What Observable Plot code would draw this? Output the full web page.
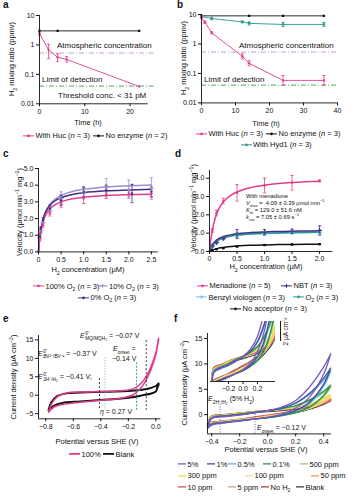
<!DOCTYPE html>
<html><head><meta charset="utf-8">
<script src="https://cdn.jsdelivr.net/npm/d3@7"></script>
<script src="https://cdn.jsdelivr.net/npm/@observablehq/plot@0.6"></script>
<style>
html,body{margin:0;padding:0;background:#fff;}
#root{position:relative;width:356px;height:500px;overflow:hidden;font-family:"Liberation Sans",Arial,Helvetica,sans-serif;color:#111;}
.t{position:absolute;white-space:nowrap;line-height:1;}
.ss{display:inline-flex;flex-direction:column;vertical-align:middle;font-size:68%;line-height:1.05;margin-left:0.5px;}
sub,sup{font-size:70%;line-height:0;}
</style></head><body><div id="root"></div>
<script>
// ---------------- DATA ----------------
// Panel a
const timeA = [0, 2, 4, 6, 22];
const hucA = [2.45, 0.68, 0.38, 0.32, 0.039];
const hucA_lo = [2.15, 0.34, 0.27, 0.26, 0.039];
const hucA_hi = [2.8, 1.05, 0.5, 0.4, 0.039];
const timeA_none = [0, 4, 22];
const noneA = [3.0, 3.0, 3.0];
const atmH2 = 0.53;
const lodH2 = 0.04;
// Panel b
const timeB_huc = [0, 1, 3, 12, 14, 24, 36];
const hucB = [8, 5.5, 2.4, 0.38, 0.22, 0.058, 0.058];
const hucB_lo = [7.2, 5.0, 2.2, 0.31, 0.18, 0.04, 0.04];
const hucB_hi = [8.8, 6.0, 2.6, 0.46, 0.27, 0.085, 0.085];
const timeB_none = [0, 14, 24, 36];
const noneB = [9, 9, 9, 9];
const timeB_hyd = [0, 3, 12, 14, 24, 36];
const hydB = [8.5, 7.3, 5.6, 5.0, 4.6, 4.6];
const hydB_lo = [8.0, 6.6, 5.2, 4.4, 3.9, 3.9];
const hydB_hi = [9.2, 8.0, 6.0, 5.6, 5.4, 5.4];
// Panel c
const concC = [0.025, 0.05, 0.1, 0.25, 0.5, 1.0, 1.5, 2.0, 2.5];
const velC100 = [0.8, 1.2, 1.6, 2.3, 2.85, 3.2, 3.4, 3.5, 3.5];
const errC100 = [0.1, 0.1, 0.12, 0.15, 0.2, 0.3, 0.2, 0.2, 0.2];
const velC10 = [0.85, 1.3, 1.75, 2.5, 3.2, 3.55, 3.85, 3.75, 3.8];
const errC10 = [0.1, 0.1, 0.15, 0.2, 0.4, 0.3, 0.55, 0.55, 0.65];
const concC0 = [0.025, 0.05, 0.1, 0.25, 0.5, 1.0, 1.5, 2.07, 2.5];
const velC0 = [0.9, 1.4, 1.9, 2.6, 3.1, 3.6, 3.7, 3.5, 3.6];
const errC0 = [0.1, 0.1, 0.15, 0.2, 0.3, 0.3, 0.3, 0.55, 0.3];
const fitConcC = [0, 0.02, 0.05, 0.1, 0.15, 0.2, 0.3, 0.4, 0.5, 0.75, 1, 1.5, 2, 2.5];
const fitC100 = [0, 0.6, 1.2, 1.8, 2.16, 2.4, 2.7, 2.88, 3.0, 3.18, 3.27, 3.38, 3.43, 3.46];
const fitC10 = [0, 0.66, 1.24, 1.91, 2.33, 2.63, 3.0, 3.23, 3.39, 3.62, 3.75, 3.89, 3.96, 4.01];
const fitC0 = [0, 0.65, 1.3, 1.95, 2.34, 2.6, 2.93, 3.12, 3.25, 3.44, 3.55, 3.66, 3.71, 3.75];
// Panel d
const concD = [0.05, 0.125, 0.25, 0.5, 1.0, 1.5, 2.0];
const velMen = [1.15, 2.1, 2.75, 3.2, 3.6, 3.75, 3.85];
const errMen = [0.1, 0.15, 0.15, 0.45, 0.4, 0.4, 0.05];
const velNBT = [0.3, 0.5, 0.72, 0.95, 1.05, 1.1, 1.15];
const errNBT = [0.05, 0.05, 0.05, 0.25, 0.15, 0.12, 0.25];
const velBV = [0.28, 0.48, 0.7, 0.9, 1.0, 1.05, 1.05];
const errBV = [0.05, 0.05, 0.05, 0.12, 0.1, 0.06, 0.15];
const velO2 = [0.3, 0.47, 0.7, 0.88, 1.0, 1.03, 1.05];
const errO2 = [0.05, 0.05, 0.05, 0.1, 0.08, 0.06, 0.1];
const velNo = [0.08, 0.12, 0.18, 0.27, 0.35, 0.38, 0.4];
const errNo = [0.02, 0.02, 0.02, 0.03, 0.03, 0.03, 0.03];
const fitConcD = [0, 0.025, 0.05, 0.1, 0.15, 0.2, 0.3, 0.4, 0.5, 0.75, 1, 1.25, 1.5, 1.75, 2];
const fitMen = [0, 0.66, 1.14, 1.79, 2.2, 2.49, 2.86, 3.09, 3.25, 3.49, 3.62, 3.71, 3.77, 3.81, 3.84];
const fitNBT = [0, 0.21, 0.35, 0.55, 0.67, 0.75, 0.86, 0.92, 0.97, 1.03, 1.07, 1.09, 1.11, 1.12, 1.13];
const fitBV = [0, 0.19, 0.32, 0.5, 0.61, 0.69, 0.79, 0.85, 0.89, 0.95, 0.98, 1.0, 1.02, 1.03, 1.04];
const fitO2 = [0, 0.18, 0.31, 0.49, 0.6, 0.68, 0.78, 0.85, 0.89, 0.96, 0.99, 1.01, 1.03, 1.04, 1.05];
const fitNo = [0, 0.04, 0.075, 0.13, 0.17, 0.2, 0.245, 0.277, 0.3, 0.338, 0.36, 0.375, 0.386, 0.394, 0.4];
// Panel e
const eUpX = [-0.78, -0.76, -0.72, -0.65, -0.5, -0.3, -0.2, -0.15, -0.1, -0.05, 0, 0.02];
const eLoX = [0.02, 0.01, 0, -0.04, -0.08, -0.12, -0.16, -0.25, -0.4, -0.55, -0.68, -0.74, -0.78];
const ePinkUp = [-4.6, -2.5, -0.5, 0.6, 0.9, 1.1, 1.4, 2.0, 3.5, 6.5, 11.5, 15.5];
const ePinkLo = [15, 13, 11, 6.5, 3.5, 1.5, 0.2, -0.8, -1.4, -1.9, -2.5, -3.2, -4.6];
const eBlankUp = [-4.0, -2.0, -0.3, 0.5, 0.8, 1.0, 1.15, 1.3, 1.5, 1.8, 2.5, 3.2];
const eBlankLo = [2.8, 2.0, 1.0, 0.4, 0.1, -0.2, -0.5, -0.9, -1.3, -1.7, -2.1, -2.8, -4.0];
const ePotentials = [-0.07, -0.37, -0.14, -0.41];
// Panel f
const fSeries = ["5%", "1%", "0.5%", "0.1%", "500 ppm", "300 ppm", "100 ppm", "50 ppm", "10 ppm", "5 ppm", "No H₂", "Blank"];
const fUpX = [-0.43, -0.4, -0.3, -0.2, -0.1, 0, 0.1, 0.2, 0.3, 0.4, 0.45];
const fLoX = [0.45, 0.4, 0.3, 0.2, 0.1, 0, -0.1, -0.2, -0.3, -0.4, -0.43];
const fUp = [
  [-2.8, -0.8, -0.4, -0.1, 0.3, 0.8, 1.5, 2.8, 5.5, 9.4, 12],
  [-2.5, -0.7, -0.3, 0, 0.4, 0.8, 1.3, 2.3, 4.2, 7.2, 9.2],
  [-2.4, -0.6, -0.3, 0, 0.4, 0.8, 1.3, 2.2, 4.0, 6.8, 8.6],
  [-2.2, -0.6, -0.2, 0.1, 0.5, 0.8, 1.2, 1.8, 2.9, 4.6, 5.8],
  [-2.2, -0.6, -0.2, 0.1, 0.5, 0.8, 1.2, 1.7, 2.7, 4.3, 5.4],
  [-2.0, -0.5, -0.2, 0.2, 0.5, 0.8, 1.1, 1.5, 2.1, 3.2, 4.0],
  [-2.0, -0.5, -0.1, 0.2, 0.5, 0.8, 1.1, 1.4, 1.9, 2.8, 3.5],
  [-1.9, -0.4, -0.1, 0.3, 0.6, 0.8, 1.1, 1.4, 1.8, 2.6, 3.2],
  [-1.8, -0.3, 0, 0.3, 0.6, 0.8, 1.0, 1.3, 1.7, 2.4, 3.0],
  [-1.8, -0.3, 0, 0.3, 0.6, 0.8, 1.0, 1.3, 1.7, 2.3, 2.9],
  [-1.7, -0.3, 0, 0.3, 0.6, 0.8, 1.0, 1.3, 1.6, 2.2, 2.7],
  [-1.9, -0.4, -0.1, 0.2, 0.4, 0.6, 0.8, 1.1, 1.5, 2.2, 2.8]
];
const fLo = [
  [12, 8, 3.5, 1.3, 0.1, -0.5, -0.9, -1.3, -1.6, -2.1, -2.8],
  [9.2, 6, 2.5, 0.8, -0.1, -0.6, -0.9, -1.2, -1.5, -1.9, -2.5],
  [8.6, 5.6, 2.2, 0.7, -0.1, -0.6, -0.9, -1.2, -1.5, -1.9, -2.4],
  [5.8, 3.8, 1.5, 0.4, -0.2, -0.6, -0.9, -1.2, -1.5, -1.8, -2.2],
  [5.4, 3.5, 1.4, 0.4, -0.2, -0.6, -0.9, -1.2, -1.5, -1.8, -2.2],
  [4.0, 2.8, 1.3, 0.5, 0, -0.4, -0.8, -1.1, -1.4, -1.7, -2.0],
  [3.5, 2.5, 1.3, 0.6, 0.1, -0.3, -0.7, -1.0, -1.3, -1.7, -2.0],
  [3.2, 2.4, 1.3, 0.6, 0.1, -0.3, -0.7, -1.0, -1.3, -1.6, -1.9],
  [3.0, 2.3, 1.3, 0.7, 0.2, -0.2, -0.6, -1.0, -1.3, -1.6, -1.8],
  [2.9, 2.2, 1.3, 0.7, 0.2, -0.2, -0.6, -1.0, -1.3, -1.6, -1.8],
  [2.7, 2.2, 1.4, 0.8, 0.3, -0.1, -0.5, -0.9, -1.2, -1.5, -1.7],
  [2.8, 2.0, 1.1, 0.4, -0.1, -0.5, -0.8, -1.1, -1.4, -1.7, -1.9]
];
const fMarkers = [-0.34, -0.09];

// ---------------- STYLE ----------------
const PINK = "#e23d8d", TEAL = "#27998f", DPURP = "#3f2f85", LPURP = "#9c8fd0", LBLUE = "#7cc0e8";
const ATM = "#c6a0d8", LOD = "#4ea65c", BLK = "#111";
const fColors = ["#7a5cb8", "#3b4ea0", "#5fb0e0", "#2e8a46", "#8dcf7f", "#ece040", "#f3d6a0", "#f39a5a", "#e05050", "#c9a08a", "#a04848", "#444444"];
const FONT = '"Liberation Sans", Arial, Helvetica, sans-serif';
const STYLE = `background:transparent;overflow:visible;font-family:${FONT};font-size:7px;color:#111;max-width:none;`;
const root = document.getElementById("root");
function put(el, left, top) { el.style.position = "absolute"; el.style.left = left + "px"; el.style.top = top + "px"; root.appendChild(el); return el; }
function P([x0, x1, y0, y1], opts) {
  const L = x0 - 30, T = y0 - 10, W = (x1 + 12) - L, H = (y1 + 20) - T;
  const svg = Plot.plot({width: W, height: H, marginLeft: 30, marginRight: 12, marginTop: 10, marginBottom: 20, style: STYLE, ...opts});
  return put(svg, L, T);
}
function T(html, x, y, o = {}) {
  const d = document.createElement("div"); d.className = "t"; d.innerHTML = html;
  d.style.left = x + "px"; d.style.top = y + "px"; d.style.fontSize = (o.size || 7.5) + "px";
  if (o.weight) d.style.fontWeight = o.weight;
  const tx = o.anchor === "middle" ? "-50%" : o.anchor === "end" ? "-100%" : "0";
  d.style.transform = `translate(${tx},-50%)` + (o.rotate ? ` rotate(${o.rotate}deg)` : "");
  root.appendChild(d); return d;
}
function legend(x, y, color, sym, html, o = {}) {
  const w = o.w || 11;
  const mk = sym === "dot" ? `<circle cx="${w/2}" cy="3" r="1.3" fill="${color}"/>` : sym === "plus" ? `<path d="M${w/2-2} 3h4M${w/2} 1v4" stroke="${color}" stroke-width="0.9"/>` : "";
  T(`<span style="display:inline-flex;align-items:center"><svg width="${w}" height="6" style="margin-right:1.5px"><line x1="0" y1="3" x2="${w}" y2="3" stroke="${color}" stroke-width="${o.sw || 1}"/>${mk}</svg><span>${html}</span></span>`, x, y, {size: o.size || 7.5});
}
const cap = {draw(ctx, size) { const w = Math.sqrt(size / Math.PI); ctx.moveTo(-w, 0); ctx.lineTo(w, 0); }};
const rows = (xs, ys, lo, hi) => xs.map((x, i) => ({x, y: ys[i], lo: lo ? lo[i] : ys[i], hi: hi ? hi[i] : ys[i]}));
const symRows = (xs, ys, es) => xs.map((x, i) => ({x, y: ys[i], lo: ys[i] - es[i], hi: ys[i] + es[i]}));
function err(data, color, r = 1.6) {
  const d = data.filter(v => v.hi > v.lo);
  return [
    Plot.ruleX(d, {x: "x", y1: "lo", y2: "hi", stroke: color, strokeWidth: 0.8}),
    Plot.dot(d, {x: "x", y: "lo", symbol: cap, r, stroke: color, fill: "none", strokeWidth: 0.8}),
    Plot.dot(d, {x: "x", y: "hi", symbol: cap, r, stroke: color, fill: "none", strokeWidth: 0.8})
  ];
}
function axes(xMin, yMin, xTicks, yTicks, xFmt, yFmt) {
  return [
    Plot.ruleX([xMin], {stroke: BLK, strokeWidth: 0.9}),
    Plot.ruleY([yMin], {stroke: BLK, strokeWidth: 0.9}),
    Plot.axisX({ticks: xTicks, tickFormat: xFmt, tickSize: 3, tickPadding: 2, label: null}),
    Plot.axisY({ticks: yTicks, tickFormat: yFmt, tickSize: 3, tickPadding: 2, label: null})
  ];
}
const logFmt = d3.format("~g");
const halfFmt = d => d === 0 ? "0" : d.toFixed(1);

// ---------------- PANEL a ----------------
{
  const huc = rows(timeA, hucA, hucA_lo, hucA_hi), none = rows(timeA_none, noneA);
  P([39.3, 148, 15, 103.3], {
    x: {domain: [0, 24]}, y: {type: "log", domain: [0.01, 10]},
    marks: [
      Plot.ruleY([atmH2], {x1: 0, x2: 25.3, stroke: ATM, strokeDasharray: "5,2,1,2"}),
      Plot.ruleY([lodH2], {x1: 0, x2: 25.3, stroke: LOD, strokeDasharray: "5,2,1,2"}),
      Plot.line(none, {x: "x", y: "y", stroke: BLK, strokeWidth: 0.9}),
      Plot.dot(none, {x: "x", y: "y", r: 1.3, fill: BLK, symbol: "square"}),
      Plot.line(huc, {x: "x", y: "y", stroke: PINK, strokeWidth: 0.9}),
      ...err(huc, PINK),
      Plot.dot(huc, {x: "x", y: "y", r: 1.2, fill: PINK}),
      ...axes(0, 0.01, [0, 10, 20], [0.01, 0.1, 1, 10], undefined, logFmt)
    ]
  });
  T("a", 3, 5, {size: 10, weight: "bold"});
  T("H<sub>2</sub> mixing ratio (ppmv)", 12, 59, {anchor: "middle", rotate: -90});
  T("Time (h)", 88, 123, {anchor: "middle"});
  T("Atmospheric concentration", 57, 46, {size: 8});
  T("Limit of detection", 42, 80, {size: 8});
  T("Threshold conc. &lt; 31 pM", 58, 96, {size: 8});
  legend(23, 136, PINK, "dot", "With Huc (<i>n</i> = 3)");
  legend(93, 136, BLK, "dot", "No enzyme (<i>n</i> = 2)");
}
// ---------------- PANEL b ----------------
{
  const huc = rows(timeB_huc, hucB, hucB_lo, hucB_hi), none = rows(timeB_none, noneB), hyd = rows(timeB_hyd, hydB, hydB_lo, hydB_hi);
  P([200.7, 336.7, 14.3, 102.7], {
    x: {domain: [0, 40]}, y: {type: "log", domain: [0.01, 10]},
    marks: [
      Plot.ruleY([atmH2], {x1: 0, x2: 40, stroke: ATM, strokeDasharray: "5,2,1,2"}),
      Plot.ruleY([lodH2], {x1: 0, x2: 40, stroke: LOD, strokeDasharray: "5,2,1,2"}),
      Plot.line(none, {x: "x", y: "y", stroke: BLK, strokeWidth: 0.9}),
      Plot.dot(none, {x: "x", y: "y", r: 1.3, fill: BLK, symbol: "square"}),
      Plot.line(hyd, {x: "x", y: "y", stroke: TEAL, strokeWidth: 0.9}),
      ...err(hyd, TEAL),
      Plot.dot(hyd, {x: "x", y: "y", r: 1.3, fill: TEAL, symbol: "square"}),
      Plot.line(huc, {x: "x", y: "y", stroke: PINK, strokeWidth: 0.9}),
      ...err(huc, PINK),
      Plot.dot(huc, {x: "x", y: "y", r: 1.2, fill: PINK}),
      ...axes(0, 0.01, [0, 10, 20, 30, 40], [0.01, 0.1, 1, 10], undefined, logFmt)
    ]
  });
  T("b", 177, 5, {size: 10, weight: "bold"});
  T("H<sub>2</sub> mixing ratio (ppmv)", 184, 58, {anchor: "middle", rotate: -90});
  T("Time (h)", 266, 123.5, {anchor: "middle"});
  T("Atmospheric concentration", 239, 46, {size: 8});
  T("Limit of detection", 204, 80, {size: 8});
  legend(196, 134, PINK, "dot", "With Huc (<i>n</i> = 3)");
  legend(266, 134, BLK, "dot", "No enzyme (<i>n</i> = 3)");
  legend(240.5, 145, TEAL, "dot", "With Hyd1 (<i>n</i> = 3)");
}
// ---------------- PANEL c ----------------
{
  const fit = (ys) => fitConcC.map((x, i) => ({x, y: ys[i]}));
  const r100 = symRows(concC, velC100, errC100), r10 = symRows(concC, velC10, errC10), r0 = symRows(concC0, velC0, errC0);
  P([38.3, 158, 168.3, 251.7], {
    x: {domain: [0, 2.65]}, y: {domain: [0, 5]},
    marks: [
      Plot.line(fit(fitC10), {x: "x", y: "y", stroke: LPURP, curve: "catmull-rom"}),
      Plot.line(fit(fitC0), {x: "x", y: "y", stroke: DPURP, curve: "catmull-rom"}),
      Plot.line(fit(fitC100), {x: "x", y: "y", stroke: PINK, curve: "catmull-rom"}),
      ...err(r10, LPURP), ...err(r0, DPURP), ...err(r100, PINK),
      Plot.dot(r10, {x: "x", y: "y", symbol: "plus", r: 1.8, stroke: LPURP, strokeWidth: 0.9}),
      Plot.dot(r0, {x: "x", y: "y", r: 1.2, fill: DPURP}),
      Plot.dot(r100, {x: "x", y: "y", r: 1.2, fill: PINK}),
      ...axes(0, 0, [0, 0.5, 1, 1.5, 2, 2.5], [0, 1, 2, 3, 4, 5], halfFmt, undefined)
    ]
  });
  T("c", 3, 154, {size: 10, weight: "bold"});
  T("Velocity (μmol min<sup>−1</sup> mg<sup>−1</sup>)", 20, 212, {anchor: "middle", rotate: -90});
  T("H<sub>2</sub> concentration (μM)", 88, 270, {anchor: "middle"});
  legend(33, 286.7, PINK, "dot", "100% O<sub>2</sub> (<i>n</i> = 3)");
  legend(96.5, 286.7, LPURP, "plus", "10% O<sub>2</sub> (<i>n</i> = 3)");
  legend(78, 298, DPURP, "dot", "0% O<sub>2</sub> (<i>n</i> = 3)");
}
// ---------------- PANEL d ----------------
{
  const fit = (ys) => fitConcD.map((x, i) => ({x, y: ys[i]}));
  const men = symRows(concD, velMen, errMen), nbt = symRows(concD, velNBT, errNBT), bv = symRows(concD, velBV, errBV), o2 = symRows(concD, velO2, errO2), no = symRows(concD, velNo, errNo);
  P([208.7, 332, 170, 251], {
    x: {domain: [0, 2.24]}, y: {domain: [0, 4.42]},
    marks: [
      Plot.line(fit(fitNo), {x: "x", y: "y", stroke: BLK, curve: "catmull-rom"}),
      Plot.line(fit(fitBV), {x: "x", y: "y", stroke: LBLUE, curve: "catmull-rom"}),
      Plot.line(fit(fitO2), {x: "x", y: "y", stroke: TEAL, curve: "catmull-rom"}),
      Plot.line(fit(fitNBT), {x: "x", y: "y", stroke: DPURP, curve: "catmull-rom"}),
      Plot.line(fit(fitMen), {x: "x", y: "y", stroke: PINK, curve: "catmull-rom"}),
      ...err(no, BLK), ...err(bv, LBLUE), ...err(o2, TEAL), ...err(nbt, DPURP), ...err(men, PINK),
      Plot.dot(no, {x: "x", y: "y", r: 1.2, fill: BLK}),
      Plot.dot(bv, {x: "x", y: "y", symbol: "plus", r: 1.8, stroke: LBLUE, strokeWidth: 0.9}),
      Plot.dot(o2, {x: "x", y: "y", r: 1.2, fill: TEAL}),
      Plot.dot(nbt, {x: "x", y: "y", symbol: "plus", r: 1.8, stroke: DPURP, strokeWidth: 0.9}),
      Plot.dot(men, {x: "x", y: "y", r: 1.2, fill: PINK}),
      ...axes(0, 0, [0, 0.5, 1, 1.5, 2], [0, 1, 2, 3, 4], halfFmt, undefined)
    ]
  });
  T("d", 175, 154, {size: 10, weight: "bold"});
  T("Velocity (μmol min<sup>−1</sup> mg<sup>−1</sup>)", 194, 208, {anchor: "middle", rotate: -90});
  T("H<sub>2</sub> concentration (μM)", 266, 267, {anchor: "middle"});
  T("With menadione", 246, 196.5, {size: 5.8});
  T("<i>V</i><sub>max</sub> = &nbsp;4.09 ± 0.39 μmol min<sup>−1</sup>", 246, 203.6, {size: 5.8});
  T("<i>K</i><sub>m</sub> = 129.0 ± 51.6 nM", 246, 210.6, {size: 5.8});
  T("<i>k</i><sub>cat</sub> = 7.05 ± 0.69 s<sup>−1</sup>", 246, 217.5, {size: 5.8});
  legend(197, 286, PINK, "dot", "Menadione (<i>n</i> = 5)");
  legend(281, 286, DPURP, "plus", "NBT (<i>n</i> = 3)");
  legend(196, 297.5, LBLUE, "plus", "Benzyl viologen (<i>n</i> = 3)");
  legend(293, 297.5, TEAL, "dot", "O<sub>2</sub> (<i>n</i> = 3)");
  legend(230, 309, BLK, "dot", "No acceptor (<i>n</i> = 3)");
}
// ---------------- PANEL e ----------------
{
  const loop = (ux, uy, lx, ly) => ux.map((x, i) => ({x, y: uy[i]})).concat(lx.map((x, i) => ({x, y: ly[i]})));
  const pink = loop(eUpX, ePinkUp, eLoX, ePinkLo), blank = loop(eUpX, eBlankUp, eLoX, eBlankLo);
  const tops = [14.8, 10.1, 8.8, 4.5];
  const cols = ["#222", "#6fb7d8", "#2a8f9a", "#222"];
  const dash = ["2,2", "1.2,1.5", "2,1.5", "2,2"];
  P([37.7, 160, 335, 418.3], {
    x: {domain: [-0.853, 0.036]}, y: {domain: [-6.4, 16.2]},
    marks: [
      Plot.line(blank, {x: "x", y: "y", stroke: BLK, strokeWidth: 2, curve: "catmull-rom"}),
      Plot.line(pink, {x: "x", y: "y", stroke: PINK, strokeWidth: 1.5, curve: "catmull-rom"}),
      ...ePotentials.map((p, i) => Plot.ruleX([p], {y1: tops[i], y2: -4.1, stroke: cols[i], strokeDasharray: dash[i], strokeWidth: 0.9})),
      ...axes(-0.853, -6.4, [-0.8, -0.6, -0.4, -0.2, 0], [-5, 0, 5, 10, 15], undefined, undefined)
    ]
  });
  T("e", 3, 319, {size: 10, weight: "bold"});
  T("Current density (μA cm<sup>−2</sup>)", 14, 377, {anchor: "middle", rotate: -90});
  T("Potential versus SHE (V)", 97, 442, {anchor: "middle"});
  T(`<i>E</i><span class="ss"><span>0′</span><span>MQ/MQH₂</span></span> = −0.07 V`, 80, 336, {size: 7});
  T(`<i>E</i><span class="ss"><span>0′</span><span>BV²⁺/BV⁺•</span></span> = −0.37 V`, 38, 354, {size: 7});
  T(`<i>E</i><sub>onset</sub> =`, 113, 349, {size: 7});
  T(`−0.14 V`, 112, 357.5, {size: 7});
  T(`<i>E</i><span class="ss"><span>0′</span><span>2H⁺/H₂</span></span> = −0.41 V;`, 38, 376.5, {size: 7});
  T(`<i>η</i> = 0.27 V`, 100, 411, {size: 7});
  legend(69, 454.5, PINK, "none", "100%", {sw: 1.8});
  legend(103, 454.5, BLK, "none", "Blank", {sw: 1.8});
}
// ---------------- PANEL f ----------------
{
  const loops = fSeries.map((s, k) => fUpX.map((x, i) => ({x, y: fUp[k][i]})).concat(fLoX.map((x, i) => ({x, y: fLo[k][i]}))));
  const order = d3.range(fSeries.length).reverse();
  P([207.1, 331, 333.2, 433.6], {
    x: {domain: [-0.43, 0.455]}, y: {domain: [-3.8, 16]},
    marks: [
      ...order.map(k => Plot.line(loops[k], {x: "x", y: "y", stroke: fColors[k], strokeWidth: 1.3, curve: "catmull-rom"})),
      Plot.ruleX([fMarkers[0]], {y1: 2.0, y2: -3.7, stroke: "#7a5cb8", strokeDasharray: "1,1.5"}),
      Plot.ruleX([fMarkers[1]], {y1: 0.5, y2: -4.0, stroke: "#7a5cb8", strokeDasharray: "1,1.5"}),
      ...axes(-0.43, -3.8, [-0.4, -0.2, 0, 0.2, 0.4], [0, 5, 10, 15], undefined, undefined)
    ]
  });
  // inset
  P([210, 275, 321, 381], {
    x: {domain: [-0.45, 0.45]}, y: {domain: [-1.7, 4.3], axis: null},
    marks: [
      ...order.map(k => Plot.line(loops[k], {x: "x", y: "y", stroke: fColors[k], strokeWidth: 1.3, curve: "catmull-rom", clip: true})),
      Plot.ruleY([-1.7], {stroke: BLK, strokeWidth: 0.9}),
      Plot.axisX({ticks: [-0.2, 0, 0.2], tickSize: 3, tickPadding: 2, label: null}),
      Plot.ruleX([0.52], {y1: 2.3, y2: 4.3, stroke: BLK, strokeWidth: 1}),
      Plot.text(["2 μA cm⁻²"], {x: 0.6, y: 3.3, rotate: -90, fontSize: 6.5, fill: BLK})
    ]
  });
  T("f", 174, 319, {size: 10, weight: "bold"});
  T("Current density (μA cm<sup>−2</sup>)", 185, 383, {anchor: "middle", rotate: -90});
  T("Potential versus SHE (V)", 266, 450, {anchor: "middle"});
  T(`<i>E</i><sub>2H⁺/H₂</sub> (5% H<sub>2</sub>)`, 208, 399, {size: 7});
  T(`<i>E</i><sub>onset</sub> = −0.12 V`, 257, 427.5, {size: 7});
  const lx = [[178, 207, 228, 263, 300], [178, 245, 311], [178, 228, 261, 296]];
  const ly = [464.5, 476, 487.5];
  let k = 0;
  lx.forEach((row, r) => row.forEach(x => { legend(x, ly[r], fColors[k], "none", fSeries[k].replace("H₂", "H<sub>2</sub>"), {w: 8, sw: 1.3}); k++; }));
}
</script></body></html>
